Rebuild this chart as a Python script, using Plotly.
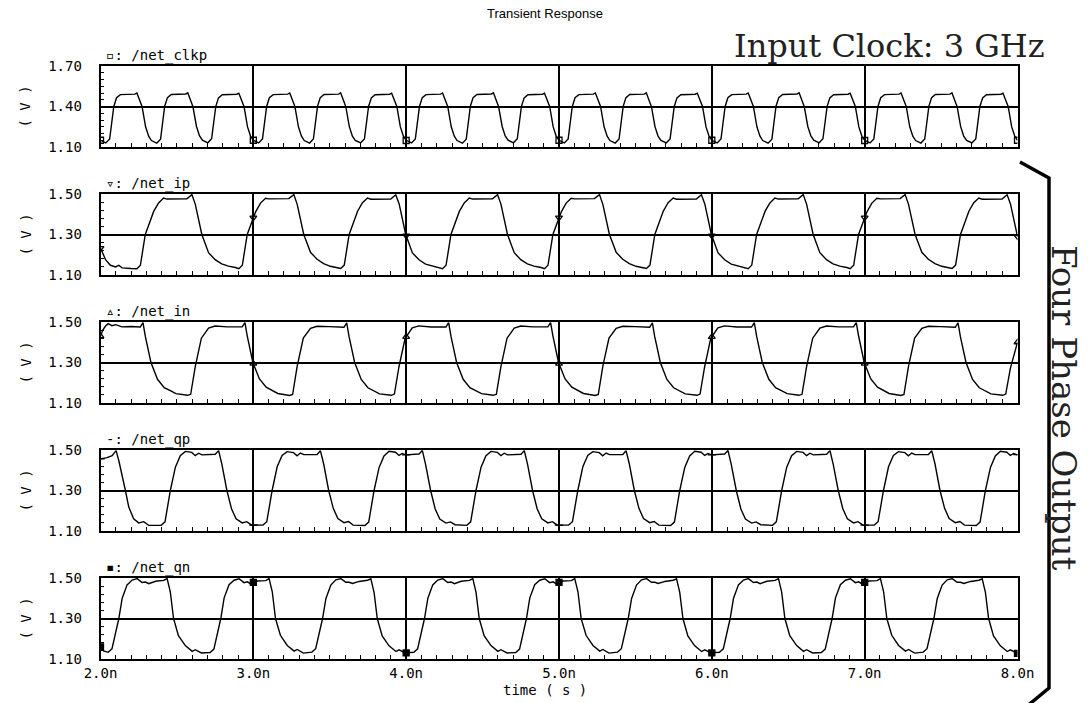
import plotly.graph_objects as go

# ---------------- data ----------------
time_ticks = [2, 3, 4, 5, 6, 7, 8]
time_tick_labels = ["2.0n", "3.0n", "4.0n", "5.0n", "6.0n", "7.0n", "8.0n"]

signal_names = ["/net_clkp", "/net_ip", "/net_in", "/net_qp", "/net_qn"]
signal_symbols = ["▫", "▿", "▵", "-", "▪"]
y_ranges = [[1.10, 1.70], [1.10, 1.50], [1.10, 1.50], [1.10, 1.50], [1.10, 1.50]]
y_tick_vals = [[1.10, 1.40, 1.70], [1.10, 1.30, 1.50], [1.10, 1.30, 1.50],
               [1.10, 1.30, 1.50], [1.10, 1.30, 1.50]]
y_tick_labels = [["1.10", "1.40", "1.70"], ["1.10", "1.30", "1.50"], ["1.10", "1.30", "1.50"],
                 ["1.10", "1.30", "1.50"], ["1.10", "1.30", "1.50"]]
y_minor_steps = [0.05, 0.04, 0.04, 0.04, 0.04]

# input clock /net_clkp (ns, V)
clkp_time = [
    2.000, 2.035, 2.060, 2.087, 2.105, 2.130, 2.225, 2.238, 2.272, 2.295, 2.315,
    2.333, 2.368, 2.393, 2.420, 2.438, 2.463, 2.558, 2.571, 2.605, 2.628, 2.648,
    2.667, 2.702, 2.727, 2.754, 2.772, 2.797, 2.892, 2.905, 2.939, 2.962, 2.982,
    3.000, 3.035, 3.060, 3.087, 3.105, 3.130, 3.225, 3.238, 3.272, 3.295, 3.315,
    3.333, 3.368, 3.393, 3.420, 3.438, 3.463, 3.558, 3.571, 3.605, 3.628, 3.648,
    3.667, 3.702, 3.727, 3.754, 3.772, 3.797, 3.892, 3.905, 3.939, 3.962, 3.982,
    4.000, 4.035, 4.060, 4.087, 4.105, 4.130, 4.225, 4.238, 4.272, 4.295, 4.315,
    4.333, 4.368, 4.393, 4.420, 4.438, 4.463, 4.558, 4.571, 4.605, 4.628, 4.648,
    4.667, 4.702, 4.727, 4.754, 4.772, 4.797, 4.892, 4.905, 4.939, 4.962, 4.982,
    5.000, 5.035, 5.060, 5.087, 5.105, 5.130, 5.225, 5.238, 5.272, 5.295, 5.315,
    5.333, 5.368, 5.393, 5.420, 5.438, 5.463, 5.558, 5.571, 5.605, 5.628, 5.648,
    5.667, 5.702, 5.727, 5.754, 5.772, 5.797, 5.892, 5.905, 5.939, 5.962, 5.982,
    6.000, 6.035, 6.060, 6.087, 6.105, 6.130, 6.225, 6.238, 6.272, 6.295, 6.315,
    6.333, 6.368, 6.393, 6.420, 6.438, 6.463, 6.558, 6.571, 6.605, 6.628, 6.648,
    6.667, 6.702, 6.727, 6.754, 6.772, 6.797, 6.892, 6.905, 6.939, 6.962, 6.982,
    7.000, 7.035, 7.060, 7.087, 7.105, 7.130, 7.225, 7.238, 7.272, 7.295, 7.315,
    7.333, 7.368, 7.393, 7.420, 7.438, 7.463, 7.558, 7.571, 7.605, 7.628, 7.648,
    7.667, 7.702, 7.727, 7.754, 7.772, 7.797, 7.892, 7.905, 7.939, 7.962, 7.982,
    8.000]
clkp_volt = [
    1.150, 1.130, 1.160, 1.400, 1.465, 1.488, 1.492, 1.500, 1.400, 1.250, 1.180,
    1.148, 1.128, 1.158, 1.402, 1.466, 1.489, 1.493, 1.501, 1.398, 1.252, 1.182,
    1.150, 1.131, 1.161, 1.399, 1.464, 1.487, 1.491, 1.499, 1.401, 1.249, 1.179,
    1.150, 1.130, 1.160, 1.400, 1.465, 1.488, 1.492, 1.500, 1.400, 1.250, 1.180,
    1.148, 1.129, 1.159, 1.401, 1.466, 1.489, 1.492, 1.501, 1.399, 1.251, 1.181,
    1.149, 1.131, 1.160, 1.400, 1.464, 1.487, 1.491, 1.499, 1.401, 1.249, 1.180,
    1.150, 1.130, 1.160, 1.400, 1.465, 1.488, 1.492, 1.500, 1.400, 1.250, 1.180,
    1.148, 1.128, 1.158, 1.402, 1.466, 1.489, 1.493, 1.501, 1.398, 1.252, 1.182,
    1.150, 1.131, 1.161, 1.399, 1.464, 1.487, 1.491, 1.499, 1.401, 1.249, 1.179,
    1.150, 1.130, 1.160, 1.400, 1.465, 1.488, 1.492, 1.500, 1.400, 1.250, 1.180,
    1.148, 1.129, 1.159, 1.401, 1.466, 1.489, 1.492, 1.501, 1.399, 1.251, 1.181,
    1.149, 1.131, 1.160, 1.400, 1.464, 1.487, 1.491, 1.499, 1.401, 1.249, 1.180,
    1.150, 1.130, 1.160, 1.400, 1.465, 1.488, 1.492, 1.500, 1.400, 1.250, 1.180,
    1.148, 1.128, 1.158, 1.402, 1.466, 1.489, 1.493, 1.501, 1.398, 1.252, 1.182,
    1.150, 1.131, 1.161, 1.399, 1.464, 1.487, 1.491, 1.499, 1.401, 1.249, 1.179,
    1.150, 1.130, 1.160, 1.400, 1.465, 1.488, 1.492, 1.500, 1.400, 1.250, 1.180,
    1.148, 1.129, 1.159, 1.401, 1.466, 1.489, 1.492, 1.501, 1.399, 1.251, 1.181,
    1.149, 1.131, 1.160, 1.400, 1.464, 1.487, 1.491, 1.499, 1.401, 1.249, 1.180,
    1.150]

# /net_ip
ip_time = [
    2.000, 2.033, 2.065, 2.098, 2.120, 2.141, 2.200,
    2.238, 2.261, 2.293, 2.348, 2.380, 2.413, 2.435, 2.565, 2.598, 2.620, 2.663, 2.707, 2.750, 2.793, 2.837, 2.883,
    2.905, 2.928, 2.960, 3.015, 3.047, 3.080, 3.102, 3.232, 3.265, 3.287, 3.330, 3.374, 3.417, 3.460, 3.504, 3.550,
    3.572, 3.595, 3.627, 3.682, 3.714, 3.747, 3.769, 3.899, 3.932, 3.954, 3.997, 4.041, 4.084, 4.127, 4.171, 4.217,
    4.238, 4.261, 4.293, 4.348, 4.380, 4.413, 4.435, 4.565, 4.598, 4.620, 4.663, 4.707, 4.750, 4.793, 4.837, 4.883,
    4.905, 4.928, 4.960, 5.015, 5.047, 5.080, 5.102, 5.232, 5.265, 5.287, 5.330, 5.374, 5.417, 5.460, 5.504, 5.550,
    5.572, 5.595, 5.627, 5.682, 5.714, 5.747, 5.769, 5.899, 5.932, 5.954, 5.997, 6.041, 6.084, 6.127, 6.171, 6.217,
    6.238, 6.261, 6.293, 6.348, 6.380, 6.413, 6.435, 6.565, 6.598, 6.620, 6.663, 6.707, 6.750, 6.793, 6.837, 6.883,
    6.905, 6.928, 6.960, 7.015, 7.047, 7.080, 7.102, 7.232, 7.265, 7.287, 7.330, 7.374, 7.417, 7.460, 7.504, 7.550,
    7.572, 7.595, 7.627, 7.682, 7.714, 7.747, 7.769, 7.899, 7.932, 7.954, 7.997, 8.000]
ip_volt = [
    1.233, 1.176, 1.148, 1.140, 1.148, 1.135, 1.132,
    1.131, 1.148, 1.300, 1.414, 1.456, 1.480, 1.475, 1.476, 1.497, 1.450, 1.300, 1.210, 1.176, 1.155, 1.144, 1.137,
    1.131, 1.148, 1.300, 1.412, 1.455, 1.479, 1.476, 1.477, 1.497, 1.449, 1.300, 1.212, 1.178, 1.156, 1.143, 1.136,
    1.132, 1.149, 1.300, 1.415, 1.457, 1.480, 1.474, 1.475, 1.496, 1.451, 1.300, 1.209, 1.175, 1.154, 1.144, 1.137,
    1.131, 1.148, 1.300, 1.414, 1.456, 1.480, 1.475, 1.476, 1.497, 1.450, 1.300, 1.210, 1.176, 1.155, 1.144, 1.137,
    1.131, 1.148, 1.300, 1.412, 1.455, 1.479, 1.476, 1.477, 1.497, 1.449, 1.300, 1.212, 1.178, 1.156, 1.143, 1.136,
    1.132, 1.149, 1.300, 1.415, 1.457, 1.480, 1.474, 1.475, 1.496, 1.451, 1.300, 1.209, 1.175, 1.154, 1.144, 1.137,
    1.131, 1.148, 1.300, 1.414, 1.456, 1.480, 1.475, 1.476, 1.497, 1.450, 1.300, 1.210, 1.176, 1.155, 1.144, 1.137,
    1.131, 1.148, 1.300, 1.412, 1.455, 1.479, 1.476, 1.477, 1.497, 1.449, 1.300, 1.212, 1.178, 1.156, 1.143, 1.136,
    1.132, 1.149, 1.300, 1.415, 1.457, 1.480, 1.474, 1.475, 1.496, 1.451, 1.300, 1.290]

# /net_in
in_time = [
    2.000, 2.015, 2.033, 2.050, 2.075, 2.100, 2.140, 2.200,
    2.260, 2.278, 2.293, 2.330, 2.373, 2.417, 2.460, 2.493, 2.570, 2.590, 2.620, 2.660, 2.707, 2.750, 2.830,
    2.927, 2.945, 2.960, 2.997, 3.040, 3.084, 3.127, 3.160, 3.237, 3.257, 3.287, 3.327, 3.374, 3.417, 3.497,
    3.593, 3.611, 3.626, 3.663, 3.706, 3.750, 3.793, 3.826, 3.903, 3.923, 3.953, 3.993, 4.040, 4.083, 4.163,
    4.260, 4.278, 4.293, 4.330, 4.373, 4.417, 4.460, 4.493, 4.570, 4.590, 4.620, 4.660, 4.707, 4.750, 4.830,
    4.927, 4.945, 4.960, 4.997, 5.040, 5.084, 5.127, 5.160, 5.237, 5.257, 5.287, 5.327, 5.374, 5.417, 5.497,
    5.593, 5.611, 5.626, 5.663, 5.706, 5.750, 5.793, 5.826, 5.903, 5.923, 5.953, 5.993, 6.040, 6.083, 6.163,
    6.260, 6.278, 6.293, 6.330, 6.373, 6.417, 6.460, 6.493, 6.570, 6.590, 6.620, 6.660, 6.707, 6.750, 6.830,
    6.927, 6.945, 6.960, 6.997, 7.040, 7.084, 7.127, 7.160, 7.237, 7.257, 7.287, 7.327, 7.374, 7.417, 7.497,
    7.593, 7.611, 7.626, 7.663, 7.706, 7.750, 7.793, 7.826, 7.903, 7.923, 7.953, 8.000]
in_volt = [
    1.430, 1.460, 1.480, 1.492, 1.482, 1.487, 1.476, 1.478,
    1.475, 1.497, 1.430, 1.300, 1.217, 1.176, 1.160, 1.146, 1.138, 1.143, 1.280, 1.420, 1.470, 1.480, 1.476,
    1.476, 1.497, 1.432, 1.300, 1.219, 1.178, 1.161, 1.147, 1.137, 1.142, 1.282, 1.421, 1.469, 1.479, 1.477,
    1.474, 1.496, 1.429, 1.300, 1.216, 1.175, 1.159, 1.145, 1.138, 1.144, 1.279, 1.419, 1.471, 1.481, 1.475,
    1.475, 1.497, 1.430, 1.300, 1.217, 1.176, 1.160, 1.146, 1.138, 1.143, 1.280, 1.420, 1.470, 1.480, 1.476,
    1.476, 1.497, 1.432, 1.300, 1.219, 1.178, 1.161, 1.147, 1.137, 1.142, 1.282, 1.421, 1.469, 1.479, 1.477,
    1.474, 1.496, 1.429, 1.300, 1.216, 1.175, 1.159, 1.145, 1.138, 1.144, 1.279, 1.419, 1.471, 1.481, 1.475,
    1.475, 1.497, 1.430, 1.300, 1.217, 1.176, 1.160, 1.146, 1.138, 1.143, 1.280, 1.420, 1.470, 1.480, 1.476,
    1.476, 1.497, 1.432, 1.300, 1.219, 1.178, 1.161, 1.147, 1.137, 1.142, 1.282, 1.421, 1.469, 1.479, 1.477,
    1.474, 1.496, 1.429, 1.300, 1.216, 1.175, 1.159, 1.145, 1.138, 1.144, 1.270, 1.400]

# /net_qp
qp_time = [
    2.000, 2.043, 2.076, 2.102, 2.120, 2.141, 2.163, 2.185, 2.217, 2.250, 2.283, 2.315,
    2.397, 2.422, 2.457, 2.490, 2.522, 2.555, 2.597, 2.620, 2.642, 2.664, 2.751, 2.773, 2.794, 2.827, 2.857, 2.887, 2.927, 2.957, 2.987,
    3.063, 3.088, 3.123, 3.156, 3.188, 3.221, 3.263, 3.286, 3.308, 3.330, 3.417, 3.439, 3.460, 3.493, 3.523, 3.553, 3.593, 3.623, 3.653,
    3.730, 3.755, 3.790, 3.823, 3.855, 3.888, 3.930, 3.953, 3.975, 3.997, 4.084, 4.106, 4.127, 4.160, 4.190, 4.220, 4.260, 4.290, 4.320,
    4.397, 4.422, 4.457, 4.490, 4.522, 4.555, 4.597, 4.620, 4.642, 4.664, 4.751, 4.773, 4.794, 4.827, 4.857, 4.887, 4.927, 4.957, 4.987,
    5.063, 5.088, 5.123, 5.156, 5.188, 5.221, 5.263, 5.286, 5.308, 5.330, 5.417, 5.439, 5.460, 5.493, 5.523, 5.553, 5.593, 5.623, 5.653,
    5.730, 5.755, 5.790, 5.823, 5.855, 5.888, 5.930, 5.953, 5.975, 5.997, 6.084, 6.106, 6.127, 6.160, 6.190, 6.220, 6.260, 6.290, 6.320,
    6.397, 6.422, 6.457, 6.490, 6.522, 6.555, 6.597, 6.620, 6.642, 6.664, 6.751, 6.773, 6.794, 6.827, 6.857, 6.887, 6.927, 6.957, 6.987,
    7.063, 7.088, 7.123, 7.156, 7.188, 7.221, 7.263, 7.286, 7.308, 7.330, 7.417, 7.439, 7.460, 7.493, 7.523, 7.553, 7.593, 7.623, 7.653,
    7.730, 7.755, 7.790, 7.823, 7.855, 7.888, 7.930, 7.953, 7.975, 7.997, 8.000]
qp_volt = [
    1.456, 1.462, 1.472, 1.497, 1.447, 1.366, 1.300, 1.218, 1.160, 1.140, 1.146, 1.128,
    1.128, 1.145, 1.300, 1.415, 1.472, 1.493, 1.488, 1.472, 1.484, 1.476, 1.479, 1.497, 1.430, 1.300, 1.210, 1.160, 1.140, 1.146, 1.130,
    1.129, 1.146, 1.300, 1.417, 1.473, 1.492, 1.487, 1.471, 1.485, 1.477, 1.478, 1.496, 1.432, 1.300, 1.212, 1.161, 1.141, 1.147, 1.129,
    1.127, 1.144, 1.300, 1.414, 1.471, 1.494, 1.489, 1.473, 1.483, 1.476, 1.480, 1.497, 1.429, 1.300, 1.209, 1.159, 1.139, 1.145, 1.131,
    1.128, 1.145, 1.300, 1.415, 1.472, 1.493, 1.488, 1.472, 1.484, 1.476, 1.479, 1.497, 1.430, 1.300, 1.210, 1.160, 1.140, 1.146, 1.130,
    1.129, 1.146, 1.300, 1.417, 1.473, 1.492, 1.487, 1.471, 1.485, 1.477, 1.478, 1.496, 1.432, 1.300, 1.212, 1.161, 1.141, 1.147, 1.129,
    1.127, 1.144, 1.300, 1.414, 1.471, 1.494, 1.489, 1.473, 1.483, 1.476, 1.480, 1.497, 1.429, 1.300, 1.209, 1.159, 1.139, 1.145, 1.131,
    1.128, 1.145, 1.300, 1.415, 1.472, 1.493, 1.488, 1.472, 1.484, 1.476, 1.479, 1.497, 1.430, 1.300, 1.210, 1.160, 1.140, 1.146, 1.130,
    1.129, 1.146, 1.300, 1.417, 1.473, 1.492, 1.487, 1.471, 1.485, 1.477, 1.478, 1.496, 1.432, 1.300, 1.212, 1.161, 1.141, 1.147, 1.129,
    1.127, 1.144, 1.300, 1.414, 1.471, 1.494, 1.489, 1.473, 1.483, 1.476, 1.477]

# /net_qn
qn_time = [
    2.000, 2.020,
    2.050, 2.075, 2.120, 2.142, 2.174, 2.207, 2.240, 2.272, 2.294, 2.316, 2.360, 2.414, 2.436, 2.457, 2.478, 2.510, 2.555, 2.600, 2.620, 2.660,
    2.717, 2.742, 2.787, 2.809, 2.841, 2.874, 2.907, 2.939, 2.961, 2.983, 3.027, 3.081, 3.103, 3.124, 3.145, 3.177, 3.222, 3.267, 3.287, 3.327,
    3.383, 3.408, 3.453, 3.475, 3.507, 3.540, 3.573, 3.605, 3.627, 3.649, 3.693, 3.747, 3.769, 3.790, 3.811, 3.843, 3.888, 3.933, 3.953, 3.993,
    4.050, 4.075, 4.120, 4.142, 4.174, 4.207, 4.240, 4.272, 4.294, 4.316, 4.360, 4.414, 4.436, 4.457, 4.478, 4.510, 4.555, 4.600, 4.620, 4.660,
    4.717, 4.742, 4.787, 4.809, 4.841, 4.874, 4.907, 4.939, 4.961, 4.983, 5.027, 5.081, 5.103, 5.124, 5.145, 5.177, 5.222, 5.267, 5.287, 5.327,
    5.383, 5.408, 5.453, 5.475, 5.507, 5.540, 5.573, 5.605, 5.627, 5.649, 5.693, 5.747, 5.769, 5.790, 5.811, 5.843, 5.888, 5.933, 5.953, 5.993,
    6.050, 6.075, 6.120, 6.142, 6.174, 6.207, 6.240, 6.272, 6.294, 6.316, 6.360, 6.414, 6.436, 6.457, 6.478, 6.510, 6.555, 6.600, 6.620, 6.660,
    6.717, 6.742, 6.787, 6.809, 6.841, 6.874, 6.907, 6.939, 6.961, 6.983, 7.027, 7.081, 7.103, 7.124, 7.145, 7.177, 7.222, 7.267, 7.287, 7.327,
    7.383, 7.408, 7.453, 7.475, 7.507, 7.540, 7.573, 7.605, 7.627, 7.649, 7.693, 7.747, 7.769, 7.790, 7.811, 7.843, 7.888, 7.933, 7.953, 7.993,
    8.000]
qn_volt = [
    1.160, 1.140,
    1.133, 1.150, 1.300, 1.400, 1.466, 1.490, 1.497, 1.478, 1.480, 1.472, 1.484, 1.488, 1.497, 1.430, 1.300, 1.215, 1.166, 1.138, 1.146, 1.130,
    1.132, 1.149, 1.300, 1.402, 1.467, 1.489, 1.496, 1.477, 1.481, 1.471, 1.485, 1.487, 1.497, 1.432, 1.300, 1.217, 1.167, 1.139, 1.147, 1.129,
    1.134, 1.151, 1.300, 1.399, 1.465, 1.491, 1.497, 1.479, 1.479, 1.473, 1.483, 1.489, 1.496, 1.429, 1.300, 1.214, 1.165, 1.137, 1.145, 1.131,
    1.133, 1.150, 1.300, 1.400, 1.466, 1.490, 1.497, 1.478, 1.480, 1.472, 1.484, 1.488, 1.497, 1.430, 1.300, 1.215, 1.166, 1.138, 1.146, 1.130,
    1.132, 1.149, 1.300, 1.402, 1.467, 1.489, 1.496, 1.477, 1.481, 1.471, 1.485, 1.487, 1.497, 1.432, 1.300, 1.217, 1.167, 1.139, 1.147, 1.129,
    1.134, 1.151, 1.300, 1.399, 1.465, 1.491, 1.497, 1.479, 1.479, 1.473, 1.483, 1.489, 1.496, 1.429, 1.300, 1.214, 1.165, 1.137, 1.145, 1.131,
    1.133, 1.150, 1.300, 1.400, 1.466, 1.490, 1.497, 1.478, 1.480, 1.472, 1.484, 1.488, 1.497, 1.430, 1.300, 1.215, 1.166, 1.138, 1.146, 1.130,
    1.132, 1.149, 1.300, 1.402, 1.467, 1.489, 1.496, 1.477, 1.481, 1.471, 1.485, 1.487, 1.497, 1.432, 1.300, 1.217, 1.167, 1.139, 1.147, 1.129,
    1.134, 1.151, 1.300, 1.399, 1.465, 1.491, 1.497, 1.479, 1.479, 1.473, 1.483, 1.489, 1.496, 1.429, 1.300, 1.214, 1.165, 1.137, 1.145, 1.131,
    1.128]

# marker values at every 1 ns
clkp_marks = [1.150, 1.150, 1.148, 1.150, 1.150, 1.148, 1.150]
ip_marks = [1.233, 1.383, 1.294, 1.383, 1.294, 1.383, 1.290]
in_marks = [1.430, 1.294, 1.427, 1.294, 1.427, 1.294, 1.400]
qp_marks = [1.456, 1.129, 1.476, 1.129, 1.476, 1.129, 1.477]
qn_marks = [1.160, 1.478, 1.130, 1.478, 1.130, 1.478, 1.128]

series_times = [clkp_time, ip_time, in_time, qp_time, qn_time]
series_volts = [clkp_volt, ip_volt, in_volt, qp_volt, qn_volt]
series_marks = [clkp_marks, ip_marks, in_marks, qp_marks, qn_marks]
marker_styles = ["square-open", "triangle-down-open", "triangle-up-open", "line-ew-open", "square"]

# ---------------- layout geometry (pixels of a 1088x703 canvas) ----------------
W, H = 1088, 703
plot_left, plot_right = 100.5, 1017.5
panel_tops = [66, 194, 322, 450, 578]
panel_bottoms = [147, 275, 403, 531, 659]

def px_x(p):
    return p / W

def px_y(p):
    return 1 - p / H

mono = "DejaVu Sans Mono"
fig = go.Figure()
layout = dict(
    width=W, height=H, margin=dict(l=0, r=0, t=0, b=0, autoexpand=False),
    paper_bgcolor="white", plot_bgcolor="white", showlegend=False,
    font=dict(family=mono, size=13, color="black"),
)

annotations = []
for i in range(5):
    n = i + 1
    xa = "x" if n == 1 else f"x{n}"
    ya = "y" if n == 1 else f"y{n}"
    fig.add_trace(go.Scatter(
        x=series_times[i], y=series_volts[i], mode="lines",
        line=dict(color="black", width=1.4), xaxis=xa, yaxis=ya,
        hoverinfo="skip"))
    fig.add_trace(go.Scatter(
        x=time_ticks, y=series_marks[i], mode="markers",
        marker=dict(symbol=marker_styles[i], size=6, color="black",
                    line=dict(color="black", width=1.3)),
        xaxis=xa, yaxis=ya, hoverinfo="skip"))

    xkey = "xaxis" if n == 1 else f"xaxis{n}"
    ykey = "yaxis" if n == 1 else f"yaxis{n}"
    layout[xkey] = dict(
        domain=[px_x(plot_left), px_x(plot_right)], range=[2, 8], anchor=ya,
        automargin=False,
        showline=True, mirror=True, linecolor="black", linewidth=1.6,
        showgrid=True, gridcolor="black", gridwidth=1.6, zeroline=False,
        tickmode="array", tickvals=time_ticks, ticktext=time_tick_labels,
        showticklabels=(i == 4), ticks="inside", ticklen=4, tickcolor="black",
        tickfont=dict(family=mono, size=14, color="black"),
        minor=dict(dtick=0.1, ticks="inside", ticklen=4, tickcolor="black",
                   tickwidth=1, showgrid=False),
        fixedrange=True,
    )
    layout[ykey] = dict(
        domain=[px_y(panel_bottoms[i]), px_y(panel_tops[i])], range=y_ranges[i],
        anchor=xa, automargin=False,
        showline=True, mirror=True, linecolor="black", linewidth=1.6,
        showgrid=True, gridcolor="black", gridwidth=1.6, zeroline=False,
        tickmode="array", tickvals=y_tick_vals[i], ticktext=y_tick_labels[i],
        ticks="inside", ticklen=4, tickcolor="black", ticklabelstandoff=14,
        tickfont=dict(family=mono, size=14, color="black"),
        minor=dict(dtick=y_minor_steps[i], tick0=y_ranges[i][0], ticks="inside",
                   ticklen=4, tickcolor="black", tickwidth=1, showgrid=False),
        fixedrange=True,
    )
    # trace label above the panel
    annotations.append(dict(
        text=f"{signal_symbols[i]}: {signal_names[i]}", xref="paper", yref="paper",
        x=px_x(104), y=px_y(panel_tops[i] - 11), xanchor="left", yanchor="middle",
        showarrow=False, font=dict(family=mono, size=14, color="black")))
    # unit label
    annotations.append(dict(
        text="( V )", xref="paper", yref="paper", textangle=-90,
        x=px_x(25), y=px_y((panel_tops[i] + panel_bottoms[i]) / 2),
        xanchor="center", yanchor="middle", showarrow=False,
        font=dict(family=mono, size=14, color="black")))

annotations += [
    dict(text="Transient Response", xref="paper", yref="paper", x=px_x(545), y=px_y(14),
         xanchor="center", yanchor="middle", showarrow=False,
         font=dict(family="Liberation Sans", size=13, color="black")),
    dict(text="time ( s )", xref="paper", yref="paper", x=px_x(545), y=px_y(690),
         xanchor="center", yanchor="middle", showarrow=False,
         font=dict(family=mono, size=14, color="black")),
    dict(text="Input Clock: 3 GHz", xref="paper", yref="paper", x=px_x(889), y=px_y(46),
         xanchor="center", yanchor="middle", showarrow=False,
         font=dict(family="DejaVu Serif", size=32, color="#222222")),
    dict(text="Four Phase Output", xref="paper", yref="paper", x=px_x(1064), y=px_y(408),
         xanchor="center", yanchor="middle", showarrow=False, textangle=90,
         font=dict(family="DejaVu Serif", size=34, color="#222222")),
]
layout["annotations"] = annotations

# bracket grouping the four phase outputs
bx0, bx1 = px_x(1020), px_x(1049)
layout["shapes"] = [dict(
    type="path", xref="paper", yref="paper",
    path=f"M {bx0},{px_y(162)} L {bx1},{px_y(178)} L {bx1},{px_y(688)} L {bx0},{px_y(712)}",
    line=dict(color="black", width=3.5))]

fig.update_layout(**layout)
fig.write_html(
    "out.html",
    config={"displayModeBar": False},
    post_script="document.body.style.margin='0';document.body.style.overflow='hidden';",
)
